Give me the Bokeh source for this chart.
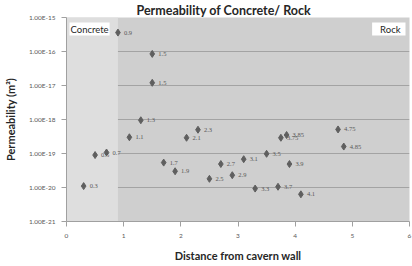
from bokeh.plotting import figure
from bokeh.models import (ColumnDataSource, FixedTicker, CustomJSTickFormatter,
                          BoxAnnotation, Label, LabelSet)
from bokeh.embed import file_html
from bokeh.resources import INLINE

# ---- data ----
distance = [0.9, 1.5, 1.5, 1.3, 2.3, 1.1, 2.1, 0.5, 0.7, 0.3, 1.7, 1.9, 2.5,
            2.7, 3.1, 3.5, 3.9, 2.9, 3.3, 3.7, 4.1, 4.75, 4.85, 3.85, 3.75]
permeability = [3.6e-16, 8.5e-17, 1.2e-17, 9.5e-19, 5.0e-19, 3.0e-19, 2.9e-19,
                9.0e-20, 1.07e-19, 1.1e-20, 5.4e-20, 3.0e-20, 1.8e-20,
                4.9e-20, 6.8e-20, 9.8e-20, 4.9e-20, 2.3e-20, 9.3e-21, 1.05e-20,
                6.3e-21, 5.1e-19, 1.6e-19, 3.5e-19, 2.9e-19]
point_labels = ["0.9", "1.5", "1.5", "1.3", "2.3", "1.1", "2.1", "0.5", "0.7",
                "0.3", "1.7", "1.9", "2.5", "2.7", "3.1", "3.5", "3.9", "2.9",
                "3.3", "3.7", "4.1", "4.75", "4.85", "3.85", "3.75"]
y_ticks = [1e-21, 1e-20, 1e-19, 1e-18, 1e-17, 1e-16, 1e-15]
x_ticks = [0, 1, 2, 3, 4, 5, 6]
concrete_limit = 0.9
title_text = "Permeability of Concrete/ Rock"
x_title = "Distance from cavern wall"
y_title = "Permeability (m\u00b2)"

FONT = "Lato"

src = ColumnDataSource(dict(x=distance, y=permeability, lab=point_labels))

p = figure(width=412, height=266, x_range=(0, 6), y_range=(1e-21, 1e-15),
           y_axis_type="log", output_backend="svg", toolbar_location=None,
           min_border_left=58, min_border_right=3, min_border_top=0,
           min_border_bottom=45, title=title_text)
p.background_fill_color = "#cfcfcf"
p.border_fill_color = "white"
p.outline_line_color = None

p.title.text_font = FONT
p.title.text_font_style = "bold"
p.title.text_font_size = "12.5px"
p.title.text_color = "#262626"
p.title.align = "left"
p.title.offset = 70
p.title.standoff = 0

# concrete zone
p.add_layout(BoxAnnotation(left=0, right=concrete_limit, fill_color="#dedede",
                           fill_alpha=1.0, line_color=None, level="underlay"))

# grid
p.xgrid.visible = False
p.ygrid.ticker = FixedTicker(ticks=y_ticks)
p.ygrid.grid_line_color = "#a3a3a3"
p.ygrid.grid_line_width = 1

# axes
p.xaxis.ticker = FixedTicker(ticks=x_ticks)
p.yaxis.ticker = FixedTicker(ticks=y_ticks)
p.yaxis.formatter = CustomJSTickFormatter(
    code="return tick.toExponential(2).toUpperCase();")
for ax in (p.xaxis[0], p.yaxis[0]):
    ax.axis_line_color = "#a0a0a0"
    ax.major_tick_line_color = "#a0a0a0"
    ax.minor_tick_line_color = None
    ax.major_tick_in = 0
    ax.major_tick_out = 5
    ax.major_label_text_font = FONT
    ax.major_label_text_font_size = "6.5px"
    ax.major_label_text_color = "#595959"
    ax.axis_label_text_font = FONT
    ax.axis_label_text_font_style = "bold"
    ax.axis_label_text_color = "#262626"
p.xaxis.major_label_standoff = 7
p.yaxis.major_label_standoff = 6
p.xaxis.axis_label = x_title
p.xaxis.axis_label_text_font_size = "11px"
p.xaxis.axis_label_standoff = 8
p.yaxis.axis_label = y_title
p.yaxis.axis_label_text_font_size = "11px"
p.yaxis.axis_label_standoff = 9

# points
p.scatter("x", "y", source=src, marker="diamond", size=7, color="#5f5f5f")
p.add_layout(LabelSet(x="x", y="y", text="lab", source=src, x_offset=6,
                      y_offset=0, text_baseline="middle",
                      text_font_size="6.5px", text_color="#595959",
                      text_font=FONT))

# zone labels
p.add_layout(Label(x=0, y=1e-15, x_offset=3, y_offset=-5, text="Concrete",
                   text_baseline="top", text_align="left",
                   text_font=FONT, text_font_size="9.5px", text_color="#262626",
                   background_fill_color="white", padding=1))
p.add_layout(Label(x=6, y=1e-15, x_offset=-4, y_offset=-5, text="Rock",
                   text_baseline="top", text_align="right",
                   text_font=FONT, text_font_size="9.5px", text_color="#262626",
                   background_fill_color="white", padding=[8, 5, 1, 1]))

open("out.html", "w").write(file_html(p, INLINE))
